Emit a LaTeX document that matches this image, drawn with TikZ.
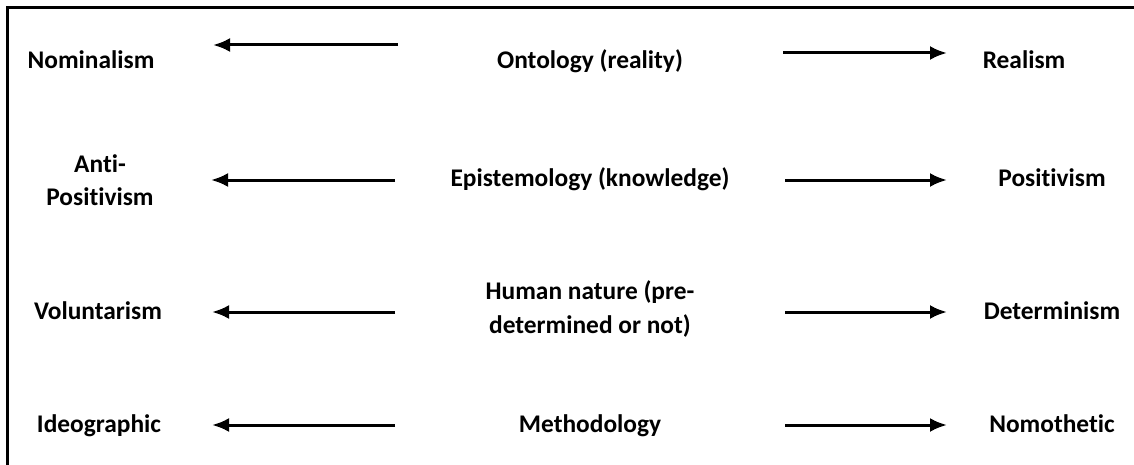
\documentclass[tikz,border=0pt]{standalone}
\usepackage{fontspec}
\setmainfont{Carlito}[Ligatures={NoCommon}]
\usetikzlibrary{arrows.meta}

\begin{document}
\begin{tikzpicture}[x=0.5pt,y=-0.5pt,
  every node/.style={font=\fontsize{12.7}{16.6}\selectfont\bfseries, align=center, text height=9pt, text depth=3pt},
  pole/.style={->, black, >={Latex[length=8.5pt,width=7pt]}, line width=1.5pt}]
\useasboundingbox (0,0) rectangle (1134,465);

\draw[line width=1.5pt] (7,465) -- (7,8) -- (1134,8);

\node[] (Nom) at (91,63) {Nominalism};
\node[] (Onto) at (590,63) {Ontology (reality)};
\node[] (Real) at (1024,63) {Realism};

\node[text height=, text depth=] (Anti) at (100,180) {Anti-\\Positivism};
\node[] (Epis) at (590,180) {Epistemology (knowledge)};
\node[] (Posi) at (1052,180) {Positivism};

\node[] (Volu) at (98,313) {Voluntarism};
\node[text height=, text depth=] (Huma) at (590,309) {Human nature (pre-\\determined or not)};
\node[] (Dete) at (1052,313) {Determinism};

\node[] (Ideo) at (99,426) {Ideographic};
\node[] (Meth) at (590,426) {Methodology};
\node[] (Nomo) at (1052,426) {Nomothetic};

\coordinate (L1a) at (398,45);
\coordinate (L1b) at (213,45);
\coordinate (R1a) at (783,53);
\coordinate (R1b) at (947,53);
\coordinate (L2a) at (395,180);
\coordinate (L2b) at (211,180);
\coordinate (R2a) at (785,180);
\coordinate (R2b) at (947,180);
\coordinate (L3a) at (395,312);
\coordinate (L3b) at (212,312);
\coordinate (R3a) at (785,312);
\coordinate (R3b) at (947,312);
\coordinate (L4a) at (395,425);
\coordinate (L4b) at (212,425);
\coordinate (R4a) at (785,425);
\coordinate (R4b) at (947,425);

\path[pole] (L1a) edge [] node[]{} (L1b);
\path[pole] (R1a) edge [] node[]{} (R1b);
\path[pole] (L2a) edge [] node[]{} (L2b);
\path[pole] (R2a) edge [] node[]{} (R2b);
\path[pole] (L3a) edge [] node[]{} (L3b);
\path[pole] (R3a) edge [] node[]{} (R3b);
\path[pole] (L4a) edge [] node[]{} (L4b);
\path[pole] (R4a) edge [] node[]{} (R4b);

\end{tikzpicture}
\end{document}
